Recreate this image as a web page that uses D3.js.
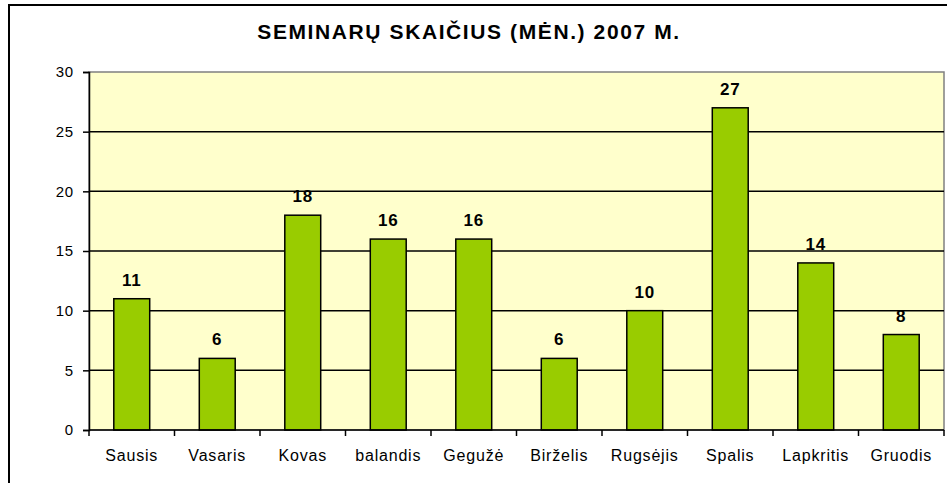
<!DOCTYPE html>
<html>
<head>
<meta charset="utf-8">
<script src="https://cdn.jsdelivr.net/npm/d3@7"></script>
<style>
  body { margin: 0; background: #fff; }
  svg { display: block; font-family: Arial, "Liberation Sans", sans-serif; }
</style>
</head>
<body>
<div id="chart"></div>
<script>
// months and seminar counts
var months = ["Sausis", "Vasaris", "Kovas", "balandis", "Gegužė", "Birželis", "Rugsėjis", "Spalis", "Lapkritis", "Gruodis"];
var counts = [11, 6, 18, 16, 16, 6, 10, 27, 14, 8];
var yTicks = [0, 5, 10, 15, 20, 25, 30];
var title = "SEMINARŲ SKAIČIUS (MĖN.) 2007 M.";

var svgWidth = 947;
var svgHeight = 483;

var plot = { left: 89, right: 944, top: 72, bottom: 430 };

var svg = d3.select("#chart")
    .append("svg")
    .attr("width", svgWidth)
    .attr("height", svgHeight);

// outer frame (cut off on right and bottom like the picture)
svg.append("rect")
    .attr("x", 9)
    .attr("y", 5)
    .attr("width", 960)
    .attr("height", 520)
    .attr("fill", "none")
    .attr("stroke", "#000")
    .attr("stroke-width", 2);

svg.append("text")
    .attr("x", 469)
    .attr("y", 39)
    .attr("text-anchor", "middle")
    .attr("font-size", 21)
    .attr("font-weight", "bold")
    .attr("letter-spacing", 1.6)
    .text(title);

var x = d3.scaleBand()
    .domain(months)
    .range([plot.left, plot.right])
    .paddingInner(0.58)
    .paddingOuter(0.29);

var y = d3.scaleLinear()
    .domain([0, 30])
    .range([plot.bottom, plot.top]);

// plot background
svg.append("rect")
    .attr("x", plot.left)
    .attr("y", plot.top)
    .attr("width", plot.right - plot.left)
    .attr("height", plot.bottom - plot.top)
    .attr("fill", "#FFFFCC")
    .attr("stroke", "#808080")
    .attr("stroke-width", 1.5);

// gridlines
svg.selectAll(".grid")
    .data(yTicks.filter(function (d) { return d > 0 && d < 30; }))
    .enter().append("line")
    .attr("x1", plot.left)
    .attr("x2", plot.right)
    .attr("y1", function (d) { return y(d); })
    .attr("y2", function (d) { return y(d); })
    .attr("stroke", "#000")
    .attr("stroke-width", 1.5);

// bars
svg.selectAll(".bar")
    .data(counts)
    .enter().append("rect")
    .attr("x", function (d, i) { return x(months[i]); })
    .attr("y", function (d) { return y(d); })
    .attr("width", x.bandwidth())
    .attr("height", function (d) { return y(0) - y(d); })
    .attr("fill", "#99CC00")
    .attr("stroke", "#000")
    .attr("stroke-width", 1.5);

// value labels
svg.selectAll(".lbl")
    .data(counts)
    .enter().append("text")
    .attr("x", function (d, i) { return x(months[i]) + x.bandwidth() / 2; })
    .attr("y", function (d) { return y(d) - 13; })
    .attr("text-anchor", "middle")
    .attr("font-size", 17)
    .attr("font-weight", "bold")
    .attr("letter-spacing", 0.8)
    .text(function (d) { return d; });

// y axis
var yAxis = d3.axisLeft(y).tickValues(yTicks).tickSize(6).tickPadding(9);
var yg = svg.append("g")
    .attr("transform", "translate(" + plot.left + ",0)")
    .call(yAxis);
yg.select(".domain").attr("stroke", "#000").attr("stroke-width", 1.5);
yg.selectAll(".tick line").attr("stroke", "#000").attr("stroke-width", 1.5);
yg.selectAll(".tick text")
    .attr("font-size", 15)
    .attr("letter-spacing", 0.8)
    .attr("font-family", "Arial, 'Liberation Sans', sans-serif")
    .attr("fill", "#000");

// x axis: ticks between categories
var edges = d3.range(months.length + 1).map(function (i) {
    return plot.left + i * (plot.right - plot.left) / months.length;
});
svg.append("line")
    .attr("x1", plot.left).attr("x2", plot.right)
    .attr("y1", plot.bottom).attr("y2", plot.bottom)
    .attr("stroke", "#000").attr("stroke-width", 1.5);
svg.selectAll(".xtick")
    .data(edges)
    .enter().append("line")
    .attr("x1", function (d) { return d; })
    .attr("x2", function (d) { return d; })
    .attr("y1", plot.bottom)
    .attr("y2", plot.bottom + 6)
    .attr("stroke", "#000")
    .attr("stroke-width", 1.5);
svg.selectAll(".xlbl")
    .data(months)
    .enter().append("text")
    .attr("x", function (d) { return x(d) + x.bandwidth() / 2; })
    .attr("y", plot.bottom + 31)
    .attr("text-anchor", "middle")
    .attr("font-size", 16)
    .attr("letter-spacing", 0.8)
    .text(function (d) { return d; });
</script>
</body>
</html>
